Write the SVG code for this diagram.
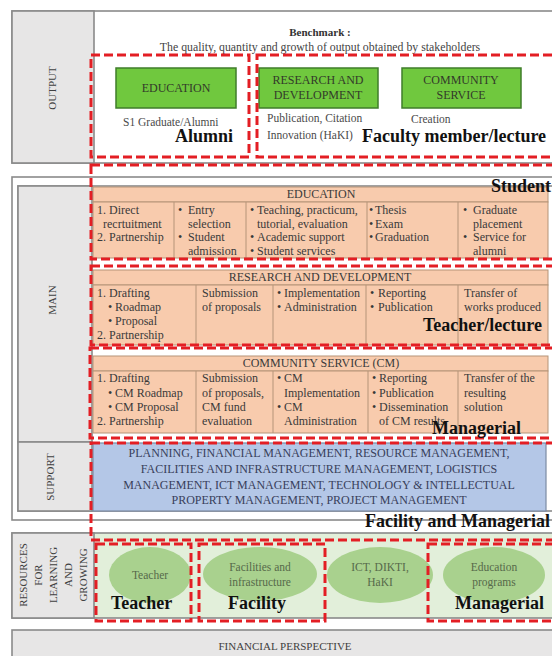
<svg xmlns="http://www.w3.org/2000/svg" width="552" height="656" viewBox="0 0 552 656">
<style>
text{font-family:"Liberation Serif","Times New Roman",serif;}
.frame{fill:#ffffff;stroke:#8a8a8a;stroke-width:1.6;}
.lab{fill:#e7e6e6;stroke:#8a8a8a;stroke-width:1.6;}
.lt{font-size:11px;fill:#404040;text-anchor:middle;}
.gb{fill:#70c83e;stroke:#3f7d2a;stroke-width:1.5;}
.gt{font-size:12px;fill:#333a2a;text-anchor:middle;}
.st{font-size:11.5px;fill:#4a4a4a;}
.or{fill:#f8cbad;stroke:#b59478;stroke-width:1;}
.t{font-size:12px;fill:#3a3a3a;}
.h{font-size:12px;fill:#3a3a3a;text-anchor:middle;}
.bl{fill:#b4c7e7;stroke:#7c8aa3;stroke-width:1.2;}
.bt{font-size:12px;fill:#38405a;text-anchor:middle;}
.el{fill:#a9d18e;}
.et{font-size:11.5px;fill:#56694a;text-anchor:middle;}
.rd{fill:none;stroke:#e31e24;stroke-width:3;stroke-dasharray:9 4;}
.bold{font-size:18px;font-weight:bold;fill:#111;}
.dv{stroke:#b59478;stroke-width:1;}
</style>

<g id="output">
<rect class="frame" x="12" y="11" width="560" height="152"/>
<rect class="lab" x="12" y="11" width="82" height="152"/>
<text class="lt" transform="translate(56,88) rotate(-90)">OUTPUT</text>
<text x="320" y="36" style="font-size:11px;font-weight:bold;fill:#333;text-anchor:middle">Benchmark :</text>
<text x="320" y="51" style="font-size:11.8px;fill:#444;text-anchor:middle">The quality, quantity and growth of output obtained by stakeholders</text>
</g>

<g id="out-education">
<rect class="gb" x="116" y="68" width="120" height="40"/>
<text class="gt" x="176" y="92">EDUCATION</text>
<text class="st" x="123" y="126">S1 Graduate/Alumni</text>
</g>
<g id="out-research">
<rect class="gb" x="259" y="68" width="119" height="40"/>
<text class="gt" x="318" y="84">RESEARCH AND</text>
<text class="gt" x="318" y="99">DEVELOPMENT</text>
<text class="st" x="267" y="122">Publication, Citation</text>
<text class="st" x="267" y="139">Innovation (HaKI)</text>
</g>
<g id="out-community">
<rect class="gb" x="402" y="68" width="119" height="40"/>
<text class="gt" x="461" y="84">COMMUNITY</text>
<text class="gt" x="461" y="99">SERVICE</text>
<text class="st" x="411" y="123">Creation</text>
</g>

<g id="main">
<rect class="frame" x="12" y="177" width="560" height="343"/>
<rect class="frame" x="18" y="186" width="560" height="325"/>
<rect class="lab" x="18" y="186" width="74" height="256"/>
<rect class="lab" x="18" y="442" width="74" height="69"/>
<text class="lt" transform="translate(56,300) rotate(-90)">MAIN</text>
<text class="lt" transform="translate(54,477) rotate(-90)">SUPPORT</text>
</g>

<g id="main-education">
<rect class="or" x="93" y="187" width="455" height="15"/>
<rect class="or" x="93" y="202" width="455" height="56"/>
<line class="dv" x1="174" y1="202" x2="174" y2="258"/>
<line class="dv" x1="246" y1="202" x2="246" y2="258"/>
<line class="dv" x1="367" y1="202" x2="367" y2="258"/>
<line class="dv" x1="458" y1="202" x2="458" y2="258"/>
<text class="h" x="321" y="198">EDUCATION</text>
<text class="t" x="97" y="214">1. Direct</text>
<text class="t" x="103" y="227.5">recrtuitment</text>
<text class="t" x="97" y="241">2. Partnership</text>
<text class="t" x="178" y="214">•<tspan x="188">Entry</tspan></text>
<text class="t" x="188" y="227.5">selection</text>
<text class="t" x="178" y="241">•<tspan x="188">Student</tspan></text>
<text class="t" x="188" y="254.5">admission</text>
<text class="t" x="250" y="214">•<tspan x="257">Teaching, practicum,</tspan></text>
<text class="t" x="257" y="227.5">tutorial, evaluation</text>
<text class="t" x="250" y="241">•<tspan x="257">Academic support</tspan></text>
<text class="t" x="250" y="254.5">•<tspan x="257">Student services</tspan></text>
<text class="t" x="369" y="214">•<tspan x="375">Thesis</tspan></text>
<text class="t" x="369" y="227.5">•<tspan x="375">Exam</tspan></text>
<text class="t" x="369" y="241">•<tspan x="375">Graduation</tspan></text>
<text class="t" x="463" y="214">•<tspan x="473">Graduate</tspan></text>
<text class="t" x="473" y="227.5">placement</text>
<text class="t" x="463" y="241">•<tspan x="473">Service for</tspan></text>
<text class="t" x="473" y="254.5">alumni</text>
</g>

<g id="main-research">
<rect class="or" x="93" y="270" width="455" height="15"/>
<rect class="or" x="93" y="285" width="455" height="60"/>
<line class="dv" x1="196" y1="285" x2="196" y2="345"/>
<line class="dv" x1="273" y1="285" x2="273" y2="345"/>
<line class="dv" x1="366" y1="285" x2="366" y2="345"/>
<line class="dv" x1="458" y1="285" x2="458" y2="345"/>
<text class="h" x="320" y="281">RESEARCH AND DEVELOPMENT</text>
<text class="t" x="97" y="297">1. Drafting</text>
<text class="t" x="108" y="311">•<tspan x="115">Roadmap</tspan></text>
<text class="t" x="108" y="325">•<tspan x="115">Proposal</tspan></text>
<text class="t" x="97" y="339">2. Partnership</text>
<text class="t" x="202" y="297">Submission</text>
<text class="t" x="202" y="311">of proposals</text>
<text class="t" x="277" y="297">•<tspan x="284">Implementation</tspan></text>
<text class="t" x="277" y="311">•<tspan x="284">Administration</tspan></text>
<text class="t" x="370" y="297">•<tspan x="378">Reporting</tspan></text>
<text class="t" x="370" y="311">•<tspan x="378">Publication</tspan></text>
<text class="t" x="464" y="297">Transfer of</text>
<text class="t" x="464" y="311">works produced</text>
</g>

<g id="main-community">
<rect class="or" x="93" y="356" width="455" height="15"/>
<rect class="or" x="93" y="371" width="455" height="62"/>
<line class="dv" x1="196" y1="371" x2="196" y2="433"/>
<line class="dv" x1="273" y1="371" x2="273" y2="433"/>
<line class="dv" x1="368" y1="371" x2="368" y2="433"/>
<line class="dv" x1="458" y1="371" x2="458" y2="433"/>
<text class="h" x="321" y="367">COMMUNITY SERVICE (CM)</text>
<text class="t" x="97" y="382">1. Drafting</text>
<text class="t" x="108" y="396.5">•<tspan x="115">CM Roadmap</tspan></text>
<text class="t" x="108" y="411">•<tspan x="115">CM Proposal</tspan></text>
<text class="t" x="97" y="425">2. Partnership</text>
<text class="t" x="202" y="382">Submission</text>
<text class="t" x="202" y="396.5">of proposals,</text>
<text class="t" x="202" y="411">CM fund</text>
<text class="t" x="202" y="425">evaluation</text>
<text class="t" x="277" y="382">•<tspan x="284">CM</tspan></text>
<text class="t" x="284" y="396.5">Implementation</text>
<text class="t" x="277" y="411">•<tspan x="284">CM</tspan></text>
<text class="t" x="284" y="425">Administration</text>
<text class="t" x="372" y="382">•<tspan x="379">Reporting</tspan></text>
<text class="t" x="372" y="396.5">•<tspan x="379">Publication</tspan></text>
<text class="t" x="372" y="411">•<tspan x="379">Dissemination</tspan></text>
<text class="t" x="379" y="425">of CM results</text>
<text class="t" x="464" y="382">Transfer of the</text>
<text class="t" x="464" y="396.5">resulting</text>
<text class="t" x="464" y="411">solution</text>
</g>

<g id="support">
<rect class="bl" x="93" y="443" width="453" height="68"/>
<text class="bt" x="319" y="457">PLANNING, FINANCIAL MANAGEMENT, RESOURCE MANAGEMENT,</text>
<text class="bt" x="319" y="473">FACILITIES AND INFRASTRUCTURE MANAGEMENT, LOGISTICS</text>
<text class="bt" x="319" y="489">MANAGEMENT, ICT MANAGEMENT, TECHNOLOGY &amp; INTELLECTUAL</text>
<text class="bt" x="319" y="504">PROPERTY MANAGEMENT, PROJECT MANAGEMENT</text>
</g>

<g id="resources">
<rect class="frame" x="12" y="533" width="560" height="85" style="fill:#e2efda"/>
<rect class="lab" x="12" y="533" width="82" height="85"/>
<text class="lt" transform="translate(27,575) rotate(-90)">RESOURCES</text>
<text class="lt" transform="translate(42,575) rotate(-90)">FOR</text>
<text class="lt" transform="translate(57,575) rotate(-90)">LEARNING</text>
<text class="lt" transform="translate(72,575) rotate(-90)">AND</text>
<text class="lt" transform="translate(87,575) rotate(-90)">GROWING</text>
</g>
<g id="res-teacher">
<ellipse class="el" cx="150" cy="575" rx="41" ry="28"/>
<text class="et" x="150" y="579">Teacher</text>
</g>
<g id="res-facilities">
<ellipse class="el" cx="260" cy="574" rx="57" ry="27"/>
<text class="et" x="260" y="571">Facilities and</text>
<text class="et" x="260" y="586">infrastructure</text>
</g>
<g id="res-ict">
<ellipse class="el" cx="380" cy="575" rx="53" ry="28"/>
<text class="et" x="380" y="571">ICT, DIKTI,</text>
<text class="et" x="380" y="586">HaKI</text>
</g>
<g id="res-education">
<ellipse class="el" cx="494" cy="575" rx="51" ry="28"/>
<text class="et" x="494" y="571">Education</text>
<text class="et" x="494" y="586">programs</text>
</g>

<g id="financial">
<rect class="lab" x="12" y="630" width="560" height="40"/>
<text class="lt" x="285" y="650">FINANCIAL PERSPECTIVE</text>
</g>

<g id="highlights">
<rect class="rd" x="91" y="55" width="158" height="102"/>
<rect class="rd" x="257" y="55" width="310" height="102"/>
<rect class="rd" x="91" y="165" width="476" height="94"/>
<rect class="rd" x="91" y="266" width="476" height="79"/>
<rect class="rd" x="90" y="348" width="477" height="90"/>
<rect class="rd" x="91" y="443" width="476" height="97"/>
<rect class="rd" x="96" y="544" width="95" height="77"/>
<rect class="rd" x="199" y="544" width="126" height="77"/>
<rect class="rd" x="428" y="544" width="140" height="77"/>
<text class="bold" x="175" y="142">Alumni</text>
<text class="bold" x="362" y="142">Faculty member/lecture</text>
<text class="bold" x="491" y="192">Student</text>
<text class="bold" x="423" y="331">Teacher/lecture</text>
<text class="bold" x="432" y="434">Managerial</text>
<text class="bold" x="365" y="527">Facility and Managerial</text>
<text class="bold" x="111" y="609">Teacher</text>
<text class="bold" x="228" y="609">Facility</text>
<text class="bold" x="455" y="609">Managerial</text>
</g>
</svg>
